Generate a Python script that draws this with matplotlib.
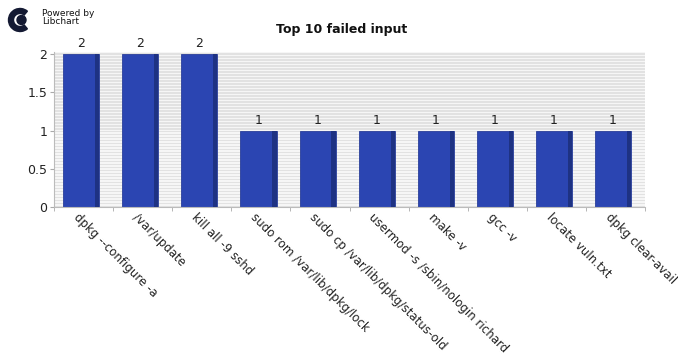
import numpy as np
import matplotlib.pyplot as plt
from matplotlib.patches import Wedge, Circle

# failed input commands and how often each was seen
commands = [
    "dpkg --configure -a",
    "/var/update",
    "kill all -9 sshd",
    "sudo rom /var/lib/dpkg/lock",
    "sudo cp /var/lib/dpkg/status-old",
    "usermod -s /sbin/nologin richard",
    "make -v",
    "gcc -v",
    "locate vuln.txt",
    "dpkg clear-avail",
]
counts = [2, 2, 2, 1, 1, 1, 1, 1, 1, 1]
y_ticks = [0, 0.5, 1, 1.5, 2]
y_tick_labels = ["0", "0.5", "1", "1.5", "2"]

W, H = 678, 358
fig = plt.figure(figsize=(W / 100, H / 100), dpi=100)
ax = fig.add_axes([54 / W, 1 - 207 / H, (645 - 54) / W, (207 - 52) / H])

x = np.arange(len(commands))
ax.set_xlim(-0.5, len(commands) - 0.5)
ax.set_ylim(0, 2.03)

# striped background
for y0 in np.linspace(0, 2.03, 52, endpoint=False):
    ax.axhspan(y0, y0 + 2.03 / 104, color="#e2e2e2", lw=0, zorder=0)
ax.set_facecolor("#f6f6f6")

# bars with a darker side strip
bw = 0.61
side = 0.07
ax.bar(x - 0.04, counts, width=bw, color="#2b45b2", edgecolor="#2a3f9a",
       linewidth=0.6, zorder=2)
ax.bar(x - 0.04 + bw / 2 - side / 2, counts, width=side, color="#1e3283",
       linewidth=0, zorder=3)

for xi, c in zip(x, counts):
    ax.text(xi - 0.04, c + 0.05, str(c), ha="center", va="bottom",
            fontsize=9, color="#222222")

ax.set_yticks(y_ticks)
ax.set_yticklabels(y_tick_labels, fontsize=9, color="#222222")
ax.set_xticks(np.arange(len(commands) + 1) - 0.5, minor=True)
ax.set_xticks(x - 0.06)
ax.set_xticklabels(commands, rotation=-45, ha="left", va="top",
                   rotation_mode="anchor", fontsize=8.5, color="#222222")
ax.tick_params(axis="x", which="major", length=0, pad=3)
ax.tick_params(axis="x", which="minor", length=3, color="#aaaaaa")
ax.tick_params(axis="y", length=3, color="#aaaaaa", pad=2)
for s in ["top", "right"]:
    ax.spines[s].set_visible(False)
for s in ["left", "bottom"]:
    ax.spines[s].set_color("#bbbbbb")

fig.text(342 / W, 1 - 30 / H, "Top 10 failed input", ha="center", va="center",
         fontsize=9, fontweight="bold", color="#111111")

# Libchart logo
lax = fig.add_axes([6 / W, 1 - 34 / H, 26 / W, 28 / H])
lax.set_xlim(0, 26)
lax.set_ylim(0, 28)
lax.axis("off")
lax.add_patch(Wedge((14, 14), 11.5, 50, 310, width=5, color="#141a33"))
lax.add_patch(Circle((15.5, 14), 4.5, color="#141a33"))
fig.text(42 / W, 1 - 13 / H, "Powered by", fontsize=6.5, va="center", color="#111111")
fig.text(42 / W, 1 - 22 / H, "Libchart", fontsize=6.5, va="center", color="#111111")

fig.savefig("out.png", dpi=100)
